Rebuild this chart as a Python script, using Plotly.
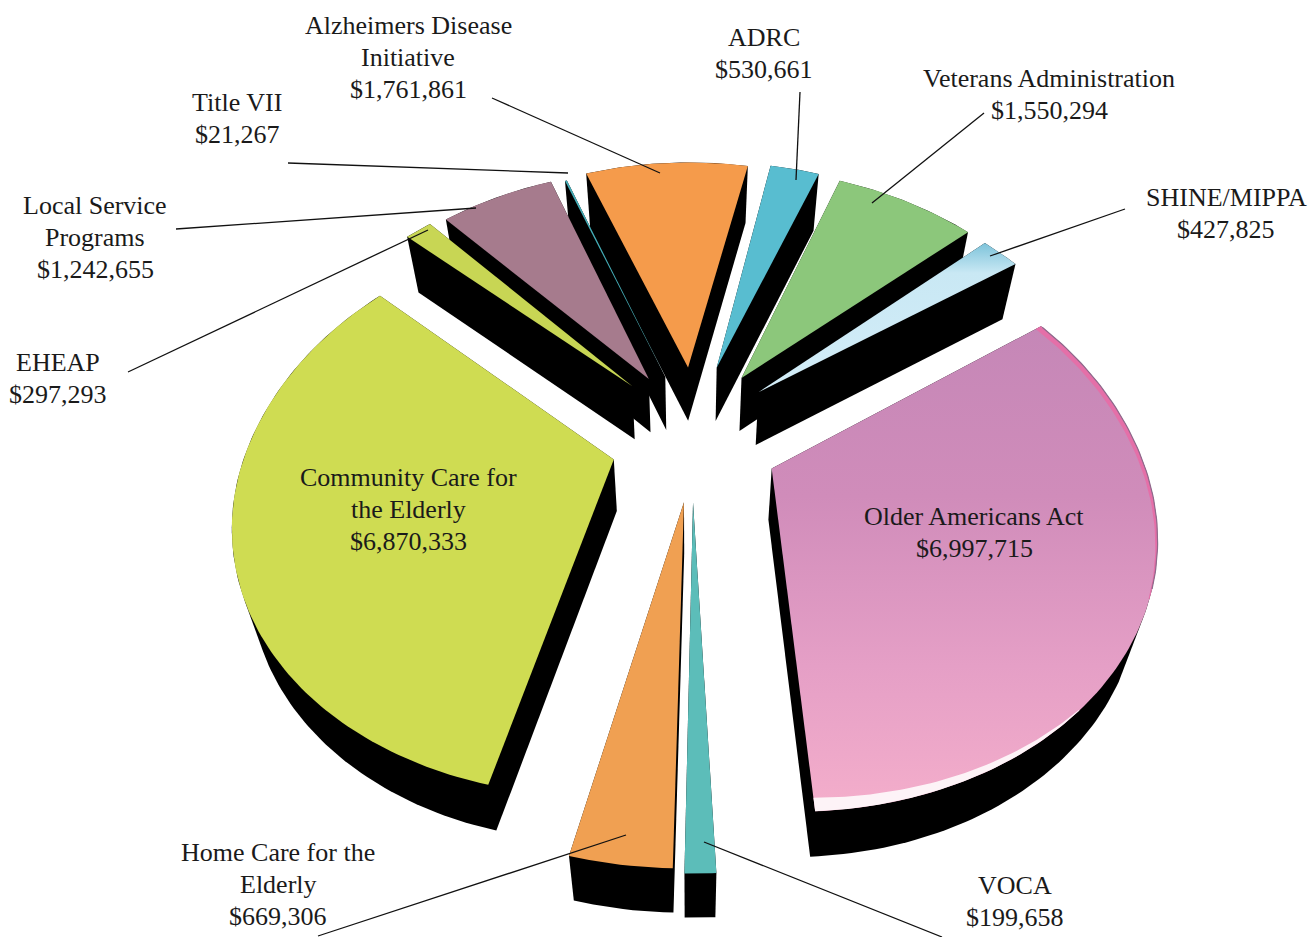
import numpy as np
import plotly.graph_objects as go

# ---- data ----
names = ["Older Americans Act", "VOCA", "Home Care for the<br>Elderly",
         "Community Care for<br>the Elderly", "EHEAP", "Local Service<br>Programs",
         "Title VII", "Alzheimers Disease<br>Initiative", "ADRC",
         "Veterans Administration", "SHINE/MIPPA"]
values = [6997715, 199658, 669306, 6870333, 297293, 1242655, 21267, 1761861,
          530661, 1550294, 427825]

# ---- style ----
colors = ["#d98fbd", "#5cbdb9", "#f0a052", "#cfdc52", "#c8d654", "#a67b8d",
          "#45aeb8", "#f59b4b", "#58bdd0", "#8cc77b", "#cfeaf6"]
pulls = [0.24, 0.19, 0.19, 0.21, 0.26, 0.27, 0.27, 0.29, 0.29, 0.28, 0.27]
radii = [1.0, 1.03, 1.02, 1.0, 1.0, 1.0, 1.0, 1.0, 1.0, 1.0, 1.0]
nudges = [(-3, 0), (2, 11), (3, 11), (2, 3), (10, -7), (10, -3), (9, 0), (6, -1),
          (-2, -3), (-6, -4), (-10, -5)]
draw_order = [7, 6, 5, 4, 8, 9, 10, 1, 2, 3, 0]
gradients = {
    0: [[0, "#f4aecb"], [0.3, "#e59fc6"], [0.65, "#d08cba"], [1, "#c587b7"]],
    10: [[0, "#d3edf8"], [0.8, "#c9e8f4"], [1, "#7dc3da"]],
}
START_DEG = 55.0
CX, CY, R, Q, K = 690.0, 440.0, 385.0, 0.68, 0.20
label_pos = [(974, 532), (1015, 901), (278, 884), (408, 509), (58, 378), (95, 237),
             (237, 118), (408, 57), (764, 53), (1049, 94), (1226, 213)]
leaders = [((942, 937), (704, 842)), ((318, 936), (626, 835)), ((128, 372), (428, 230)),
           ((176, 229), (476, 208)), ((288, 163), (568, 173)), ((492, 98), (660, 173)),
           ((800, 92), (796, 180)), ((984, 113), (872, 203)), ((1125, 209), (990, 256))]
FONT = "Liberation Serif"
FONT_SIZE = 26
LINE_STEP = 32


def project(u, v):
    s = 1.0 / (1.0 + K * v)
    return CX + R * u * s, CY - R * Q * v * s


def arc_pts(a0, a1, mid_deg, pull, radius=1.0, n=60):
    """Outer arc of a slice whose bisector is mid_deg, plus its apex, in page pixels."""
    mid = np.radians(mid_deg)
    ou, ov = pull * np.sin(mid), pull * np.cos(mid)
    th = np.radians(np.linspace(a0, a1, n))
    r = radius * (1 - 0.05 * np.sin(th) ** 2)
    du = r * np.sin(th)
    dv = r * np.cos(th)
    dv = np.where(dv > 0, dv * 1.05, dv)
    return project(ou + du, ov + dv), project(ou, ov)


def hull(pts):
    pts = sorted(set(pts))
    def half(seq):
        out = []
        for p in seq:
            while len(out) > 1 and (out[-1][0]-out[-2][0])*(p[1]-out[-2][1]) - (out[-1][1]-out[-2][1])*(p[0]-out[-2][0]) <= 0:
                out.pop()
            out.append(p)
        return out[:-1]
    return half(pts) + half(pts[::-1])


total = sum(values)
spans = [v / total * 360 for v in values]
starts = START_DEG + np.concatenate([[0], np.cumsum(spans)[:-1]])

fig = go.Figure()
for i in draw_order:
    a0, a1 = starts[i], starts[i] + spans[i]
    mid = (a0 + a1) / 2
    ndx, ndy = nudges[i]
    (ax, ay), (ox, oy) = arc_pts(a0, a1, mid, pulls[i], radius=radii[i], n=max(8, int(spans[i])))
    xs = np.concatenate([[ox], ax]) + ndx
    ys = np.concatenate([[oy], ay]) + ndy
    depth = 52 + 0.018 * (CY - ys)
    sx = xs + (CX - xs) * 0.04
    sy = ys + depth
    h = hull(list(zip(xs.tolist(), ys.tolist())) + list(zip(sx.tolist(), sy.tolist())))
    hx, hy = zip(*h)
    fig.add_trace(go.Scatter(x=list(hx) + [hx[0]], y=list(hy) + [hy[0]], mode="lines",
                             fill="toself", fillcolor="#000000", line=dict(color="#000000", width=0),
                             hoverinfo="skip", showlegend=False))
    face = dict(x=np.append(xs, xs[0]), y=np.append(ys, ys[0]), mode="lines",
                line=dict(color=colors[i], width=0), fill="toself",
                name=names[i].replace("<br>", " "), showlegend=False)
    if i in gradients:
        face["fillgradient"] = dict(type="vertical", colorscale=gradients[i])
    else:
        face["fillcolor"] = colors[i]
    fig.add_trace(go.Scatter(**face))
    if i == 0:
        # tapered rim highlights on the large slice
        for off0, off1, in0, in1, col in [(0.0, 62, 0.978, 0.998, "#e56fa8"),
                                          (85, spans[0], 0.998, 0.968, "#fdf3f7")]:
            n = 50
            (ox1, oy1), _ = arc_pts(a0 + off0, a0 + off1, mid, pulls[i], radius=1.0, n=n)
            (ix1, iy1), _ = arc_pts(a0 + off0, a0 + off1, mid, pulls[i],
                                    radius=np.linspace(in0, in1, n), n=n)
            bx = np.concatenate([ox1, ix1[::-1]]) + ndx
            by = np.concatenate([oy1, iy1[::-1]]) + ndy
            fig.add_trace(go.Scatter(x=np.append(bx, bx[0]), y=np.append(by, by[0]), mode="lines",
                                     fill="toself", fillcolor=col, line=dict(width=0, color=col),
                                     hoverinfo="skip", showlegend=False))
        (rx, ry), _ = arc_pts(a0 + 0.3, a0 + 60, mid, pulls[i], radius=1.0)
        fig.add_trace(go.Scatter(x=rx + ndx, y=ry + ndy, mode="lines",
                                 line=dict(color="#8f6a8c", width=1.2),
                                 hoverinfo="skip", showlegend=False))

for (p0, p1) in leaders:
    fig.add_trace(go.Scatter(x=[p0[0], p1[0]], y=[p0[1], p1[1]], mode="lines",
                             line=dict(color="#111111", width=1.3), hoverinfo="skip", showlegend=False))

for nm, val, (lx, ly) in zip(names, values, label_pos):
    lines = nm.split("<br>") + [f"${val:,}"]
    for k, line in enumerate(lines):
        fig.add_annotation(x=lx, y=ly + (k - (len(lines) - 1) / 2) * LINE_STEP, text=line,
                           showarrow=False, xanchor="center", yanchor="middle", align="center",
                           font=dict(family=FONT, size=FONT_SIZE, color="#1a1a1a"))

fig.update_layout(width=1313, height=937, margin=dict(l=0, r=0, t=0, b=0),
                  paper_bgcolor="white", plot_bgcolor="white", showlegend=False,
                  xaxis=dict(range=[0, 1313], visible=False, fixedrange=True),
                  yaxis=dict(range=[937, 0], visible=False, fixedrange=True))
fig.write_html("out.html", config={"displayModeBar": False},
               post_script="document.body.style.margin='0';")
